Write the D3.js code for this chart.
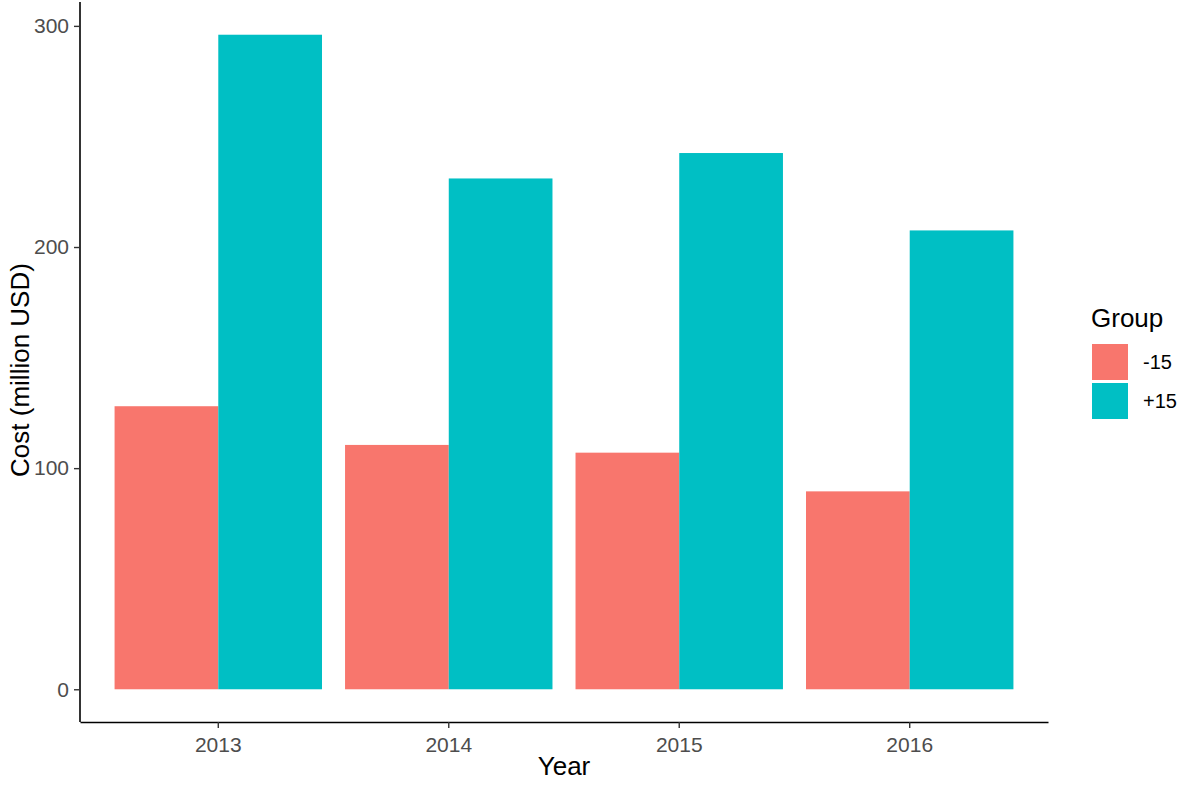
<!DOCTYPE html>
<html>
<head>
<meta charset="utf-8">
<script src="https://cdn.jsdelivr.net/npm/d3@7"></script>
<style>
  body { margin: 0; background: #fff; }
  text { font-family: Arial, "Liberation Sans", sans-serif; }
</style>
</head>
<body>
<div id="chart"></div>
<script>
// data
const years = ["2013", "2014", "2015", "2016"];
const groups = ["-15", "+15"];
const minus15 = [128, 110.5, 107, 89.5];
const plus15 = [296, 231, 242.5, 207.5];
const yTicks = [0, 100, 200, 300];
const colors = ["#F8766D", "#00BFC4"];

const width = 1181;
const height = 786;
const panel = {left: 80, right: 1048, top: 2, bottom: 722};

const rows = years.map((y, i) => ({year: y, values: [minus15[i], plus15[i]]}));

const svg = d3.select("#chart")
  .append("svg")
  .attr("width", width)
  .attr("height", height);

const x = d3.scaleBand()
  .domain(years)
  .range([panel.left, panel.right])
  .paddingInner(0.1)
  .paddingOuter(0.15);

const xg = d3.scaleBand()
  .domain(groups)
  .range([0, x.bandwidth()]);

const maxV = d3.max(plus15);
const y = d3.scaleLinear()
  .domain([-maxV * 0.05, maxV * 1.05])
  .range([panel.bottom, panel.top]);

const color = d3.scaleOrdinal(groups, colors);

// bars
const yearG = svg.append("g")
  .selectAll("g")
  .data(rows)
  .join("g")
    .attr("transform", d => `translate(${x(d.year)},0)`);

yearG.selectAll("rect")
  .data(d => d.values.map((v, i) => ({group: groups[i], value: v})))
  .join("rect")
    .attr("x", d => xg(d.group))
    .attr("y", d => y(d.value))
    .attr("width", xg.bandwidth())
    .attr("height", d => y(0) - y(d.value))
    .attr("fill", d => color(d.group));

// axes
const yAxis = svg.append("g")
  .attr("transform", `translate(${panel.left},0)`)
  .call(d3.axisLeft(y).tickValues(yTicks).tickSize(6).tickPadding(5).tickSizeOuter(0));

const xAxis = svg.append("g")
  .attr("transform", `translate(0,${panel.bottom})`)
  .call(d3.axisBottom(x).tickSize(6).tickPadding(9).tickSizeOuter(0));

[yAxis, xAxis].forEach(a => {
  a.select(".domain").attr("stroke", "#000").attr("stroke-width", 1.6);
  a.selectAll(".tick line").attr("stroke", "#333").attr("stroke-width", 1.4);
  a.selectAll(".tick text")
    .attr("fill", "#4d4d4d")
    .style("font-size", "21px")
    .style("font-family", "Arial, 'Liberation Sans', sans-serif");
});

// the y domain line should span the whole panel
yAxis.select(".domain").attr("d", `M0,${panel.top}V${panel.bottom}`);

// axis titles
svg.append("text")
  .attr("x", (panel.left + panel.right) / 2)
  .attr("y", 775)
  .attr("text-anchor", "middle")
  .style("font-size", "26px")
  .text("Year");

svg.append("text")
  .attr("transform", `translate(29,370) rotate(-90)`)
  .attr("text-anchor", "middle")
  .style("font-size", "26px")
  .text("Cost (million USD)");

// legend
const legend = svg.append("g").attr("transform", "translate(1091,0)");

legend.append("text")
  .attr("x", 0)
  .attr("y", 327)
  .style("font-size", "26px")
  .text("Group");

const keys = legend.selectAll("g.key")
  .data(groups)
  .join("g")
    .attr("class", "key")
    .attr("transform", (d, i) => `translate(0,${344 + i * 39})`);

keys.append("rect")
  .attr("x", 1)
  .attr("y", 0)
  .attr("width", 36)
  .attr("height", 36)
  .attr("fill", d => color(d));

keys.append("text")
  .attr("x", 52)
  .attr("y", 18)
  .attr("dy", "0.35em")
  .style("font-size", "20px")
  .text(d => d);
</script>
</body>
</html>
